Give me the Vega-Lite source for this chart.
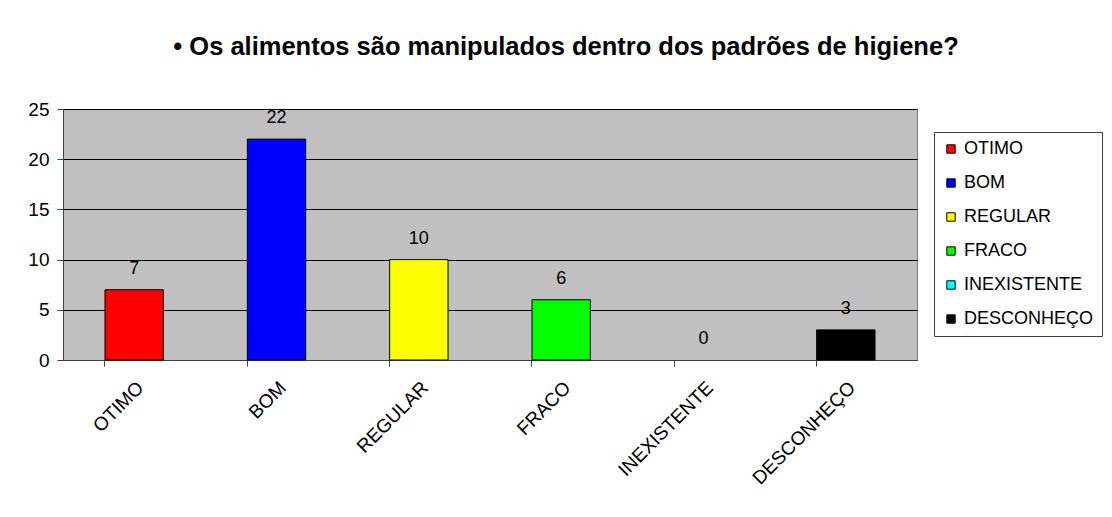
{
  "$schema": "https://vega.github.io/schema/vega-lite/v6.json",
  "width": 854,
  "height": 251,
  "autosize": {"type": "none"},
  "padding": {"left": 63, "top": 109, "right": 195, "bottom": 157},
  "background": "white",
  "title": {
    "text": "• Os alimentos são manipulados dentro dos padrões de higiene?",
    "font": "Liberation Sans",
    "fontSize": 25.5,
    "fontWeight": "bold",
    "color": "black",
    "anchor": "middle",
    "frame": "group",
    "dx": 76,
    "offset": 40
  },
  "config": {
    "font": "Liberation Sans",
    "view": {"fill": "#C0C0C0", "stroke": "#808080", "strokeWidth": 1}
  },
  "data": {
    "values": [
      {"categoria": "OTIMO", "valor": 7},
      {"categoria": "BOM", "valor": 22},
      {"categoria": "REGULAR", "valor": 10},
      {"categoria": "FRACO", "valor": 6},
      {"categoria": "INEXISTENTE", "valor": 0},
      {"categoria": "DESCONHEÇO", "valor": 3}
    ]
  },
  "encoding": {
    "x": {
      "field": "categoria",
      "type": "nominal",
      "sort": null,
      "scale": {
        "domain": ["OTIMO", "BOM", "REGULAR", "FRACO", "INEXISTENTE", "DESCONHEÇO"],
        "paddingInner": 0.59,
        "paddingOuter": 0.295
      },
      "axis": {
        "title": null,
        "labelAngle": -45,
        "labelFontSize": 19,
        "labelColor": "black",
        "labelPadding": 12,
        "bandPosition": 0,
        "tickColor": "#404040",
        "tickSize": 6,
        "domainColor": "#404040",
        "labelFont": "Liberation Sans"
      }
    },
    "y": {
      "field": "valor",
      "type": "quantitative",
      "scale": {"domain": [0, 25], "nice": false},
      "axis": {
        "title": null,
        "values": [0, 5, 10, 15, 20, 25],
        "labelFontSize": 19,
        "labelColor": "black",
        "labelPadding": 8,
        "tickColor": "#404040",
        "tickSize": 6,
        "domainColor": "#404040",
        "gridColor": "black",
        "gridOpacity": 1,
        "gridWidth": 1,
        "labelFont": "Liberation Sans"
      }
    }
  },
  "layer": [
    {
      "transform": [{"filter": "datum.valor > 0"}],
      "mark": {"type": "bar", "stroke": "black", "strokeWidth": 1},
      "encoding": {
        "color": {
          "field": "categoria",
          "type": "nominal",
          "sort": null,
          "scale": {
            "domain": ["OTIMO", "BOM", "REGULAR", "FRACO", "INEXISTENTE", "DESCONHEÇO"],
            "range": ["#FF0000", "#0000FF", "#FFFF00", "#00FF00", "#00FFFF", "#000000"]
          },
          "legend": {
            "title": null,
            "orient": "none",
            "legendX": 871,
            "legendY": 23,
            "symbolType": "square",
            "symbolSize": 70,
            "symbolStrokeColor": "black",
            "symbolStrokeWidth": 1,
            "symbolOpacity": 1,
            "labelFontSize": 18,
            "labelColor": "black",
            "labelFont": "Liberation Sans",
            "labelOffset": 4,
            "rowPadding": 16,
            "padding": 8,
            "strokeColor": "#404040",
            "fillColor": "white",
            "labelLimit": 300
          }
        }
      }
    },
    {
      "mark": {"type": "text", "baseline": "alphabetic", "dy": -16, "fontSize": 18, "color": "black", "font": "Liberation Sans"},
      "encoding": {
        "text": {"field": "valor", "type": "quantitative"}
      }
    }
  ]
}
